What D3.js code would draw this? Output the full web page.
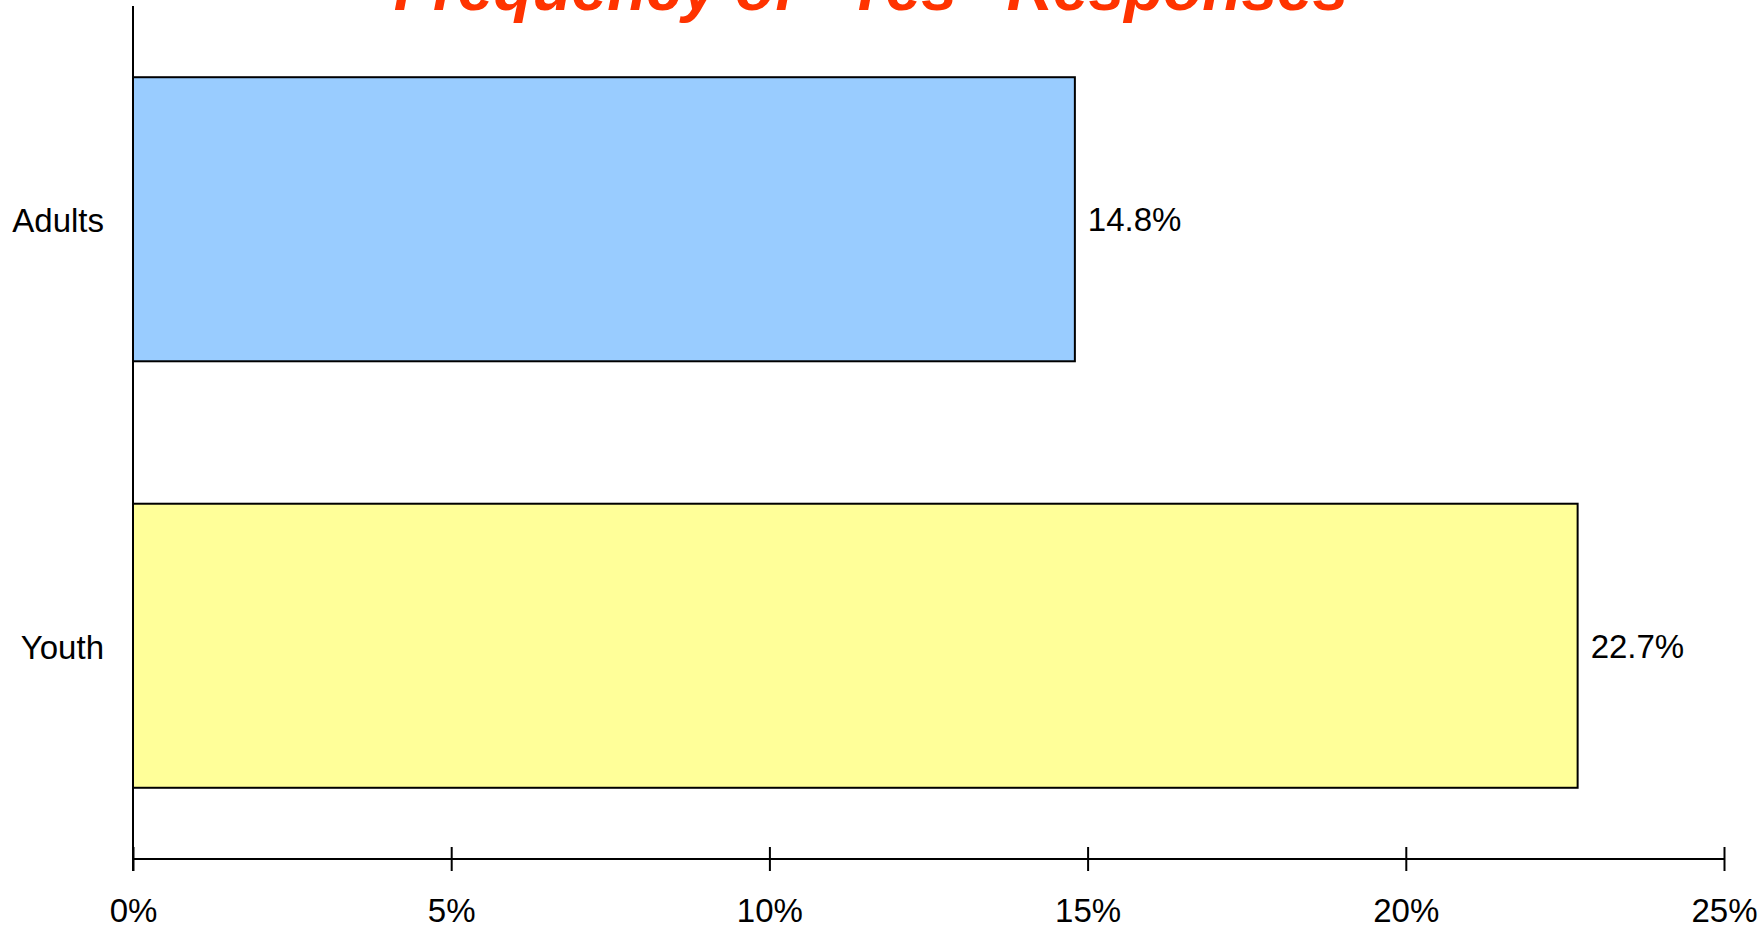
<!DOCTYPE html>
<html>
<head>
<meta charset="utf-8">
<script src="https://cdn.jsdelivr.net/npm/d3@7"></script>
<style>
  html, body { margin: 0; padding: 0; background: #fff; }
  svg { display: block; }
  text { font-family: "Liberation Sans", Arial, sans-serif; }
</style>
</head>
<body>
<svg id="chart" width="1763" height="934"></svg>
<script>
const categories = ["Adults", "Youth"];
const values = [14.8, 22.7];
const barColors = ["#99CCFF", "#FFFF99"];
const xTicks = [0, 5, 10, 15, 20, 25];
const titleText = "Frequency of  \u201CYes\u201D  Responses";

const svg = d3.select("#chart");
const plotLeft = 133, plotRight = 1724, plotTop = 6, plotBottom = 859;

const x = d3.scaleLinear().domain([0, 25]).range([plotLeft, plotRight]);
const y = d3.scaleBand().domain(categories).range([plotTop, plotBottom])
  .paddingInner(0.334).paddingOuter(0.167);

// title
svg.append("text")
  .attr("x", 871).attr("y", 10)
  .attr("text-anchor", "middle")
  .attr("font-size", 64).attr("font-weight", "bold").attr("font-style", "italic")
  .attr("fill", "#FF3300")
  .text(titleText);

// bars
svg.selectAll("rect.bar").data(categories).enter().append("rect")
  .attr("class", "bar")
  .attr("x", x(0))
  .attr("y", d => y(d))
  .attr("width", (d, i) => x(values[i]) - x(0))
  .attr("height", y.bandwidth())
  .attr("fill", (d, i) => barColors[i])
  .attr("stroke", "#000").attr("stroke-width", 2);

// value labels
svg.selectAll("text.val").data(categories).enter().append("text")
  .attr("class", "val")
  .attr("x", (d, i) => x(values[i]) + 13)
  .attr("y", d => y(d) + y.bandwidth() / 2 + 12)
  .attr("font-size", 33).attr("fill", "#000")
  .text((d, i) => values[i].toFixed(1) + "%");

// category labels
svg.selectAll("text.cat").data(categories).enter().append("text")
  .attr("class", "cat")
  .attr("x", 104)
  .attr("y", d => y(d) + y.bandwidth() / 2 + 13)
  .attr("text-anchor", "end")
  .attr("font-size", 33).attr("fill", "#000")
  .text(d => d);

// x axis
const xAxis = d3.axisBottom(x).tickValues(xTicks).tickFormat(d => d + "%").tickSize(12).tickPadding(28);
const gx = svg.append("g").attr("transform", `translate(0,${plotBottom})`).call(xAxis);
gx.select(".domain").attr("stroke", "#000").attr("stroke-width", 2).attr("d", `M${plotLeft},0H${plotRight}`);
gx.selectAll(".tick line").attr("stroke", "#000").attr("stroke-width", 2).attr("y1", -12).attr("y2", 12);
gx.selectAll(".tick text").attr("font-size", 33).attr("fill", "#000")
  .attr("font-family", "Liberation Sans, Arial, sans-serif");

// y axis line
svg.append("line")
  .attr("x1", plotLeft).attr("x2", plotLeft)
  .attr("y1", plotTop).attr("y2", plotBottom + 12)
  .attr("stroke", "#000").attr("stroke-width", 2);
</script>
</body>
</html>
